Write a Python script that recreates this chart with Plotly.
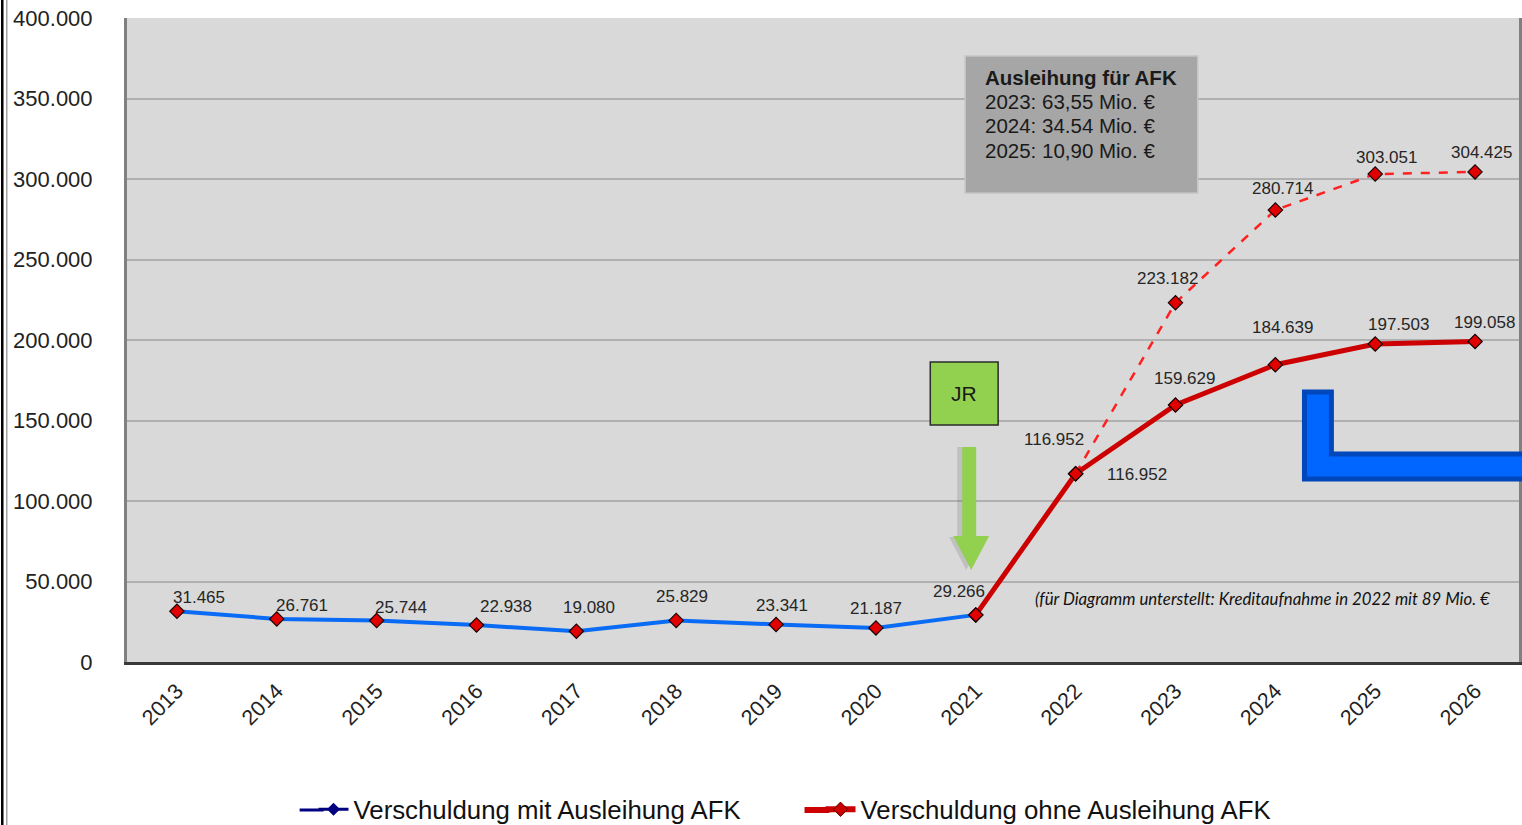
import plotly.graph_objects as go

# ---------------- data ----------------
years = ["2013", "2014", "2015", "2016", "2017", "2018", "2019",
         "2020", "2021", "2022", "2023", "2024", "2025", "2026"]
mit_years = years[:9]
mit_values = [31465, 26761, 25744, 22938, 19080, 25829, 23341, 21187, 29266]
ohne_years = years[8:]
ohne_values = [29266, 116952, 159629, 184639, 197503, 199058]
dash_years = years[9:]
dash_values = [116952, 223182, 280714, 303051, 304425]

series_names = ["Verschuldung mit Ausleihung AFK", "Verschuldung ohne Ausleihung AFK"]
box_title = "Ausleihung für AFK"
box_lines = ["2023: 63,55 Mio. €", "2024: 34.54 Mio. €", "2025: 10,90 Mio. €"]
note_text = "(für Diagramm unterstellt: Kreditaufnahme in 2022 mit 89 Mio. €"

# label offsets (px) -- styling only
mit_off = [(22, 14), (25, 13), (24, 13), (29, 18), (13, 24), (6, 24), (6, 19), (0, 19), (-17, 23)]
ohne_off = [None, (61, -1), (9, 26), (7, 37), (23, 19), (9, 19)]
dash_off = [(-22, 34), (-8, 24), (7, 21), (11, 16), (6, 19)]

# ---------------- layout geometry ----------------
K = 833 / 825          # compensates vertical squeeze of the capture
W, H0 = 1522, 825
H = round(H0 * K)
L, R = 127, 0
T, B = 18 * K, 163 * K
PW, PH = W - L - R, H - T - B

def px(x):
    return (x - L) / PW

def py(y):
    return (H - B - y * K) / PH

FONT = "Liberation Sans, Arial, sans-serif"
RED = "#cc0000"
NAVY = "#000080"

def fmt(v):
    return f"{v:,}".replace(",", ".")

fig = go.Figure()

marker = dict(symbol="diamond", size=11, color="#e00000",
              line=dict(color="#1a0000", width=1.2))

fig.add_trace(go.Scatter(x=dash_years, y=dash_values, mode="lines+markers",
                         line=dict(color="#ff2020", width=2.5, dash="dash"),
                         marker=marker, showlegend=False, hoverinfo="skip"))
fig.add_trace(go.Scatter(x=ohne_years, y=ohne_values, mode="lines+markers",
                         line=dict(color=RED, width=5),
                         marker=marker, showlegend=False, hoverinfo="skip"))
fig.add_trace(go.Scatter(x=mit_years, y=mit_values, mode="lines+markers",
                         line=dict(color="#0a6cf5", width=4),
                         marker=marker, showlegend=False, hoverinfo="skip"))

# legend-only entries
fig.add_trace(go.Scatter(x=[None], y=[None], mode="lines+markers", name=series_names[0],
                         line=dict(color=NAVY, width=3),
                         marker=dict(symbol="diamond", size=10, color=NAVY)))
fig.add_trace(go.Scatter(x=[None], y=[None], mode="lines+markers", name=series_names[1],
                         line=dict(color=RED, width=6),
                         marker=dict(symbol="diamond", size=11, color=RED,
                                     line=dict(color="#550000", width=1))))

annotations = []

def add_labels(xs, vs, offs):
    for x, v, o in zip(xs, vs, offs):
        if o is None:
            continue
        annotations.append(dict(x=years.index(x), y=v, xref="x", yref="y", text=fmt(v),
                                showarrow=False, xshift=o[0], yshift=o[1] * K,
                                font=dict(family=FONT, size=17, color="#262626")))

add_labels(mit_years, mit_values, mit_off)
add_labels(ohne_years, ohne_values, ohne_off)
add_labels(dash_years, dash_values, dash_off)

# info box text
annotations.append(dict(x=px(985), y=py(77), xref="paper", yref="paper", text="<b>" + box_title + "</b>",
                        showarrow=False, xanchor="left", yanchor="middle",
                        font=dict(family=FONT, size=20.5, color="#1a1a1a")))
for i, line in enumerate(box_lines):
    annotations.append(dict(x=px(985), y=py(101 + 24.5 * i), xref="paper", yref="paper", text=line,
                            showarrow=False, xanchor="left", yanchor="middle",
                            font=dict(family=FONT, size=20.5, color="#1a1a1a")))

# JR label
annotations.append(dict(x=px(966), y=py(393), xref="paper", yref="paper", text="JR",
                        showarrow=False, xanchor="center", yanchor="middle",
                        font=dict(family=FONT, size=21, color="#1a1a1a")))

# note
annotations.append(dict(x=px(1035), y=py(598), xref="paper", yref="paper", text=note_text,
                        showarrow=False, xanchor="left", yanchor="middle",
                        font=dict(family="Lato, Open Sans, sans-serif", size=16.8, color="#111111",
                                  style="italic")))

def path(points):
    s = "M " + " L ".join(f"{px(x):.5f},{py(y):.5f}" for x, y in points) + " Z"
    return s

shapes = [
    # outer left frame lines
    dict(type="line", xref="paper", yref="paper", x0=px(2), x1=px(2), y0=py(0), y1=py(840),
         line=dict(color="#000000", width=2.5)),
    dict(type="line", xref="paper", yref="paper", x0=px(6.5), x1=px(6.5), y0=py(0), y1=py(840),
         line=dict(color="#a0a0a0", width=1.5)),
    # info box
    dict(type="rect", xref="paper", yref="paper", x0=px(967), x1=px(1200), y0=py(193), y1=py(56),
         fillcolor="#a6a6a6", line=dict(color="#c4c4c4", width=1.5)),
    # JR box
    dict(type="rect", xref="paper", yref="paper", x0=px(932), x1=px(1000), y0=py(425), y1=py(362),
         fillcolor="#92d050", line=dict(color="#2b2b2b", width=1.5)),
    # arrow shadow
    dict(type="path", xref="paper", yref="paper",
         path=path([(959, 447), (973, 447), (973, 537), (985, 537), (968, 570), (951, 537), (959, 537)]),
         fillcolor="rgba(80,80,80,0.18)", line=dict(width=0)),
    # green arrow
    dict(type="path", xref="paper", yref="paper",
         path=path([(964, 447), (978, 447), (978, 536), (991, 536), (973, 570), (955, 536), (964, 536)]),
         fillcolor="#92d050", line=dict(width=0)),
    # blue L shape
    dict(type="path", xref="paper", yref="paper",
         path=path([(1307, 392), (1334, 392), (1334, 454), (1530, 454), (1530, 479), (1307, 479)]),
         fillcolor="#0066ff", line=dict(color="#0047bb", width=5)),
    # longer legend symbol lines (extend plotly's short legend line to the left)
    dict(type="line", xref="paper", yref="paper", x0=px(300), x1=px(324), y0=py(810), y1=py(810),
         line=dict(color=NAVY, width=3)),
    dict(type="line", xref="paper", yref="paper", x0=px(806), x1=px(831), y0=py(810), y1=py(810),
         line=dict(color=RED, width=6)),
]

fig.update_layout(
    width=W, height=H, autosize=False,
    margin=dict(l=L, r=R, t=T, b=B, pad=0),
    paper_bgcolor="white", plot_bgcolor="#d9d9d9",
    separators=",.",
    font=dict(family=FONT, color="#222222"),
    annotations=annotations, shapes=shapes,
    legend=dict(orientation="h", x=px(822), xanchor="center", y=py(810), yanchor="middle",
                font=dict(family=FONT, size=25.8, color="#111111"), bgcolor="rgba(0,0,0,0)",
                itemwidth=30, entrywidth=462, entrywidthmode="pixels"),
    xaxis=dict(type="category", categoryorder="array", categoryarray=years,
               range=[-0.5, 13.44], showgrid=False,
               tickangle=-45, tickfont=dict(family=FONT, size=21.5, color="#222222"),
               ticklabelstandoff=5,
               showline=True, linecolor="#3a3a3a", linewidth=3, ticks="", zeroline=False),
    yaxis=dict(range=[0, 400000], dtick=50000, tickformat=",.0f",
               showgrid=True, gridcolor="#b0b0b0", gridwidth=1.5,
               tickfont=dict(family=FONT, size=22, color="#222222"),
               ticklabelstandoff=27,
               showline=True, linecolor="#808080", linewidth=3, mirror=True, zeroline=False),
)

post = ("var d=document.documentElement,b=document.body;"
        "d.style.margin='0';d.style.padding='0';d.style.overflow='hidden';"
        "b.style.margin='0';b.style.padding='0';b.style.overflow='hidden';")
fig.write_html("out.html", config={"displayModeBar": False}, post_script=post)
